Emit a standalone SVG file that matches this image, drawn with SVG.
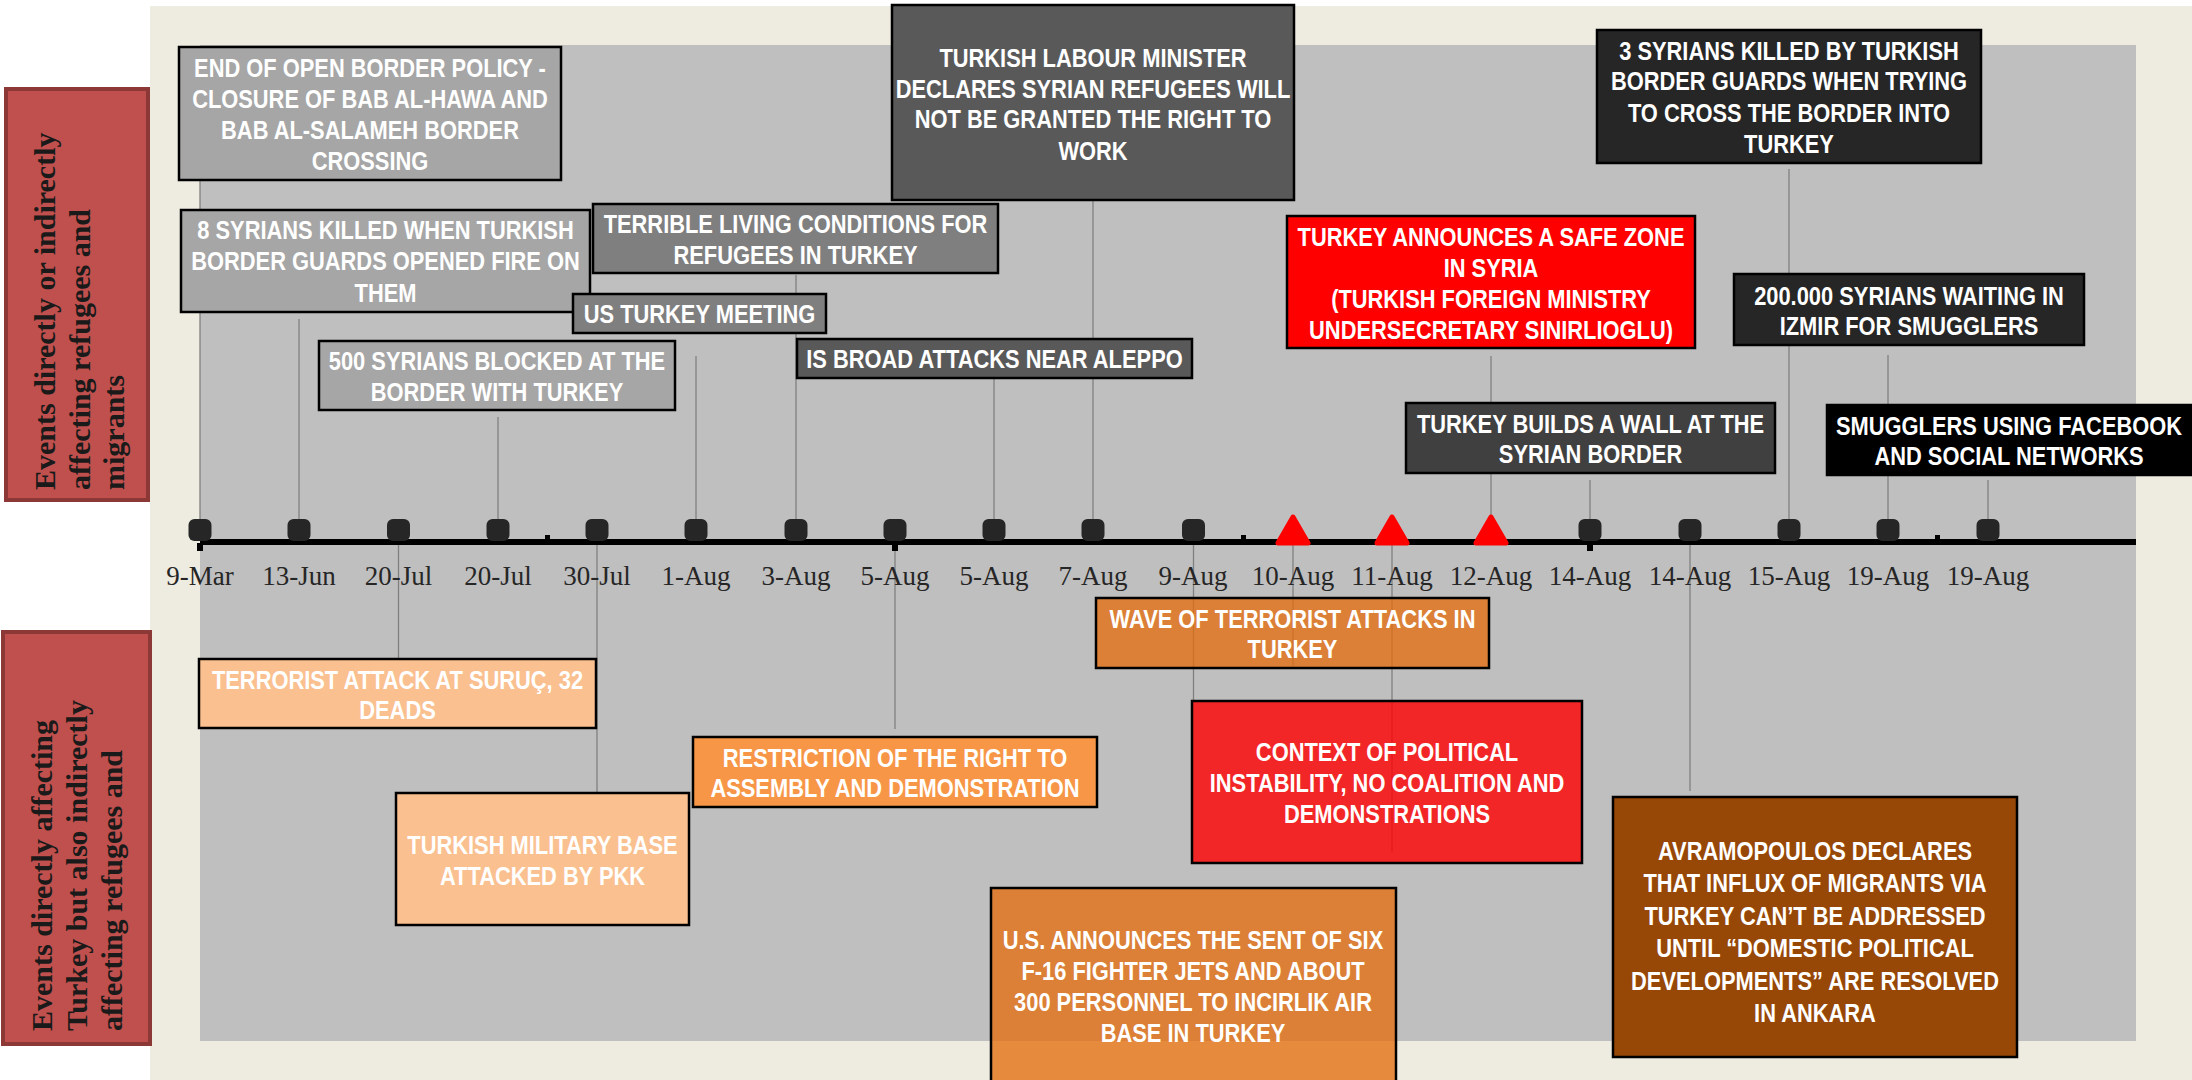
<svg xmlns="http://www.w3.org/2000/svg" width="2192" height="1080" viewBox="0 0 2192 1080">
<style>
.t{font-family:"Liberation Sans",Arial,sans-serif;font-weight:bold;font-size:25px;fill:#fff;text-anchor:middle}
.d{font-family:"Liberation Serif","Times New Roman",serif;font-size:27px;fill:#262626;text-anchor:middle}
.lab{font-family:"Liberation Serif","Times New Roman",serif;font-weight:bold;font-size:30px;fill:#1a1a1a}
.box{stroke:#000;stroke-width:2.5}
.side{fill:#C0504D;stroke:#8C3836;stroke-width:4}
.conn line{stroke:#808080;stroke-width:1.3}
.mk{fill:#262626}
.tri{fill:#FF0000;stroke:#FF0000;stroke-width:5;stroke-linejoin:round}
</style>
<rect x="0" y="0" width="2192" height="1080" fill="#ffffff"/>
<rect x="150" y="6" width="2042" height="1074" fill="#EEEBE0"/>
<rect x="200" y="45" width="1936" height="996" fill="#BFBFBF"/>

<g id="label-top">
<rect class="side" x="6" y="89" width="142" height="411"/>
<text class="lab" transform="translate(55 490) rotate(-90)" x="0" y="0">Events directly or indirectly</text>
<text class="lab" transform="translate(90 490) rotate(-90)" x="0" y="0">affecting refugees and</text>
<text class="lab" transform="translate(124 490) rotate(-90)" x="0" y="0">migrants</text>
</g>
<g id="label-bottom">
<rect class="side" x="3" y="632" width="147" height="412"/>
<text class="lab" transform="translate(52 1031) rotate(-90)" x="0" y="0">Events directly affecting</text>
<text class="lab" transform="translate(87 1031) rotate(-90)" x="0" y="0">Turkey but also indirectly</text>
<text class="lab" transform="translate(122 1031) rotate(-90)" x="0" y="0">affecting refugees and</text>
</g>

<g id="connectors" class="conn">
<line x1="200" y1="180" x2="200" y2="530"/>
<line x1="299" y1="319" x2="299" y2="530"/>
<line x1="398.5" y1="545" x2="398.5" y2="659"/>
<line x1="498" y1="417" x2="498" y2="530"/>
<line x1="597" y1="545" x2="597" y2="793"/>
<line x1="696" y1="356" x2="696" y2="530"/>
<line x1="796" y1="275" x2="796" y2="530"/>
<line x1="895" y1="545" x2="895" y2="729"/>
<line x1="994" y1="378" x2="994" y2="530"/>
<line x1="1093" y1="200" x2="1093" y2="530"/>
<line x1="1193.5" y1="545" x2="1193.5" y2="701"/>
<line x1="1293" y1="545" x2="1293" y2="666"/>
<line x1="1392" y1="545" x2="1392" y2="852"/>
<line x1="1491" y1="356" x2="1491" y2="520"/>
<line x1="1590" y1="480" x2="1590" y2="530"/>
<line x1="1690" y1="545" x2="1690" y2="791"/>
<line x1="1789" y1="169" x2="1789" y2="530"/>
<line x1="1888" y1="355" x2="1888" y2="530"/>
<line x1="1988" y1="480" x2="1988" y2="530"/>
</g>

<g id="axis">
<rect x="200" y="539" width="1936" height="6" fill="#000"/>
<rect x="197" y="543" width="6" height="8" fill="#000"/>
<rect x="892" y="543" width="6" height="8" fill="#000"/>
<rect x="1587" y="543" width="6" height="8" fill="#000"/>
<rect x="545" y="535" width="5" height="5" fill="#000"/>
<rect x="1241" y="535" width="5" height="5" fill="#000"/>
<rect x="1935" y="535" width="5" height="5" fill="#000"/>
<rect class="mk" x="188.5" y="519" width="23" height="22" rx="6"/>
<rect class="mk" x="287.5" y="519" width="23" height="22" rx="6"/>
<rect class="mk" x="387" y="519" width="23" height="22" rx="6"/>
<rect class="mk" x="486.5" y="519" width="23" height="22" rx="6"/>
<rect class="mk" x="585.5" y="519" width="23" height="22" rx="6"/>
<rect class="mk" x="684.5" y="519" width="23" height="22" rx="6"/>
<rect class="mk" x="784.5" y="519" width="23" height="22" rx="6"/>
<rect class="mk" x="883.5" y="519" width="23" height="22" rx="6"/>
<rect class="mk" x="982.5" y="519" width="23" height="22" rx="6"/>
<rect class="mk" x="1081.5" y="519" width="23" height="22" rx="6"/>
<rect class="mk" x="1182" y="519" width="23" height="22" rx="6"/>
<path class="tri" d="M1278 543 L1293 517 L1308 543 Z"/>
<path class="tri" d="M1377 543 L1392 517 L1407 543 Z"/>
<path class="tri" d="M1476 543 L1491 517 L1506 543 Z"/>
<rect class="mk" x="1578.5" y="519" width="23" height="22" rx="6"/>
<rect class="mk" x="1678.5" y="519" width="23" height="22" rx="6"/>
<rect class="mk" x="1777.5" y="519" width="23" height="22" rx="6"/>
<rect class="mk" x="1876.5" y="519" width="23" height="22" rx="6"/>
<rect class="mk" x="1976.5" y="519" width="23" height="22" rx="6"/>
</g>

<g id="dates">
<text class="d" x="200" y="585">9-Mar</text>
<text class="d" x="299" y="585">13-Jun</text>
<text class="d" x="398.5" y="585">20-Jul</text>
<text class="d" x="498" y="585">20-Jul</text>
<text class="d" x="597" y="585">30-Jul</text>
<text class="d" x="696" y="585">1-Aug</text>
<text class="d" x="796" y="585">3-Aug</text>
<text class="d" x="895" y="585">5-Aug</text>
<text class="d" x="994" y="585">5-Aug</text>
<text class="d" x="1093" y="585">7-Aug</text>
<text class="d" x="1193" y="585">9-Aug</text>
<text class="d" x="1293" y="585">10-Aug</text>
<text class="d" x="1392" y="585">11-Aug</text>
<text class="d" x="1491" y="585">12-Aug</text>
<text class="d" x="1590" y="585">14-Aug</text>
<text class="d" x="1690" y="585">14-Aug</text>
<text class="d" x="1789" y="585">15-Aug</text>
<text class="d" x="1888" y="585">19-Aug</text>
<text class="d" x="1988" y="585">19-Aug</text>
</g>

<g id="n-end">
<rect class="box" x="179" y="47" width="382" height="133" fill="#A6A6A6"/>
<g transform="translate(370 0) scale(0.875 1)">
<text class="t" x="0" y="77">END OF OPEN BORDER POLICY -</text>
<text class="t" x="0" y="108">CLOSURE OF BAB AL-HAWA AND</text>
<text class="t" x="0" y="139">BAB AL-SALAMEH BORDER</text>
<text class="t" x="0" y="170">CROSSING</text>
</g>
</g>
<g id="n-8syrians">
<rect class="box" x="181" y="210" width="409" height="102" fill="#A6A6A6"/>
<g transform="translate(385.5 0) scale(0.875 1)">
<text class="t" x="0" y="239">8 SYRIANS KILLED WHEN TURKISH</text>
<text class="t" x="0" y="270">BORDER GUARDS OPENED FIRE ON</text>
<text class="t" x="0" y="302">THEM</text>
</g>
</g>
<g id="n-terrible">
<rect class="box" x="593" y="204" width="405" height="69" fill="#7F7F7F"/>
<g transform="translate(795.5 0) scale(0.875 1)">
<text class="t" x="0" y="233">TERRIBLE LIVING CONDITIONS FOR</text>
<text class="t" x="0" y="264">REFUGEES IN TURKEY</text>
</g>
</g>
<g id="n-usturkey">
<rect class="box" x="573" y="294" width="253" height="39" fill="#7F7F7F"/>
<g transform="translate(699.5 0) scale(0.875 1)">
<text class="t" x="0" y="323">US TURKEY MEETING</text>
</g>
</g>
<g id="n-500syrians">
<rect class="box" x="319" y="341" width="356" height="69" fill="#A6A6A6"/>
<g transform="translate(497 0) scale(0.875 1)">
<text class="t" x="0" y="370">500 SYRIANS BLOCKED AT THE</text>
<text class="t" x="0" y="401">BORDER WITH TURKEY</text>
</g>
</g>
<g id="n-isbroad">
<rect class="box" x="797" y="339" width="395" height="39" fill="#595959"/>
<g transform="translate(994.5 0) scale(0.875 1)">
<text class="t" x="0" y="368">IS BROAD ATTACKS NEAR ALEPPO</text>
</g>
</g>
<g id="n-labour">
<rect class="box" x="892" y="5" width="402" height="195" fill="#595959"/>
<g transform="translate(1093 0) scale(0.875 1)">
<text class="t" x="0" y="67">TURKISH LABOUR MINISTER</text>
<text class="t" x="0" y="98">DECLARES SYRIAN REFUGEES WILL</text>
<text class="t" x="0" y="128">NOT BE GRANTED THE RIGHT TO</text>
<text class="t" x="0" y="160">WORK</text>
</g>
</g>
<g id="n-safezone">
<rect class="box" x="1287" y="216" width="408" height="132" fill="#FF0000"/>
<g transform="translate(1491 0) scale(0.875 1)">
<text class="t" x="0" y="246">TURKEY ANNOUNCES A SAFE ZONE</text>
<text class="t" x="0" y="277">IN SYRIA</text>
<text class="t" x="0" y="308">(TURKISH FOREIGN MINISTRY</text>
<text class="t" x="0" y="339">UNDERSECRETARY SINIRLIOGLU)</text>
</g>
</g>
<g id="n-wall">
<rect class="box" x="1406" y="403" width="369" height="70" fill="#404040"/>
<g transform="translate(1590.5 0) scale(0.875 1)">
<text class="t" x="0" y="433">TURKEY BUILDS A WALL AT THE</text>
<text class="t" x="0" y="463">SYRIAN BORDER</text>
</g>
</g>
<g id="n-3syrians">
<rect class="box" x="1597" y="30" width="384" height="133" fill="#262626"/>
<g transform="translate(1789 0) scale(0.875 1)">
<text class="t" x="0" y="60">3 SYRIANS KILLED BY TURKISH</text>
<text class="t" x="0" y="90">BORDER GUARDS WHEN TRYING</text>
<text class="t" x="0" y="122">TO CROSS THE BORDER INTO</text>
<text class="t" x="0" y="153">TURKEY</text>
</g>
</g>
<g id="n-200000">
<rect class="box" x="1734" y="274" width="350" height="71" fill="#262626"/>
<g transform="translate(1909 0) scale(0.875 1)">
<text class="t" x="0" y="305">200.000 SYRIANS WAITING IN</text>
<text class="t" x="0" y="335">IZMIR FOR SMUGGLERS</text>
</g>
</g>
<g id="n-smugglers">
<rect class="box" x="1827" y="405" width="370" height="70" fill="#000000"/>
<g transform="translate(2009 0) scale(0.875 1)">
<text class="t" x="0" y="435">SMUGGLERS USING FACEBOOK</text>
<text class="t" x="0" y="465">AND SOCIAL NETWORKS</text>
</g>
</g>
<g id="n-terrorist">
<rect class="box" x="199" y="659" width="397" height="69" fill="#FAC090"/>
<g transform="translate(397.5 0) scale(0.875 1)">
<text class="t" x="0" y="689">TERRORIST ATTACK AT SURUÇ, 32</text>
<text class="t" x="0" y="719">DEADS</text>
</g>
</g>
<g id="n-military">
<rect class="box" x="396" y="793" width="293" height="132" fill="#FAC090"/>
<g transform="translate(542.5 0) scale(0.875 1)">
<text class="t" x="0" y="854">TURKISH MILITARY BASE</text>
<text class="t" x="0" y="885">ATTACKED BY PKK</text>
</g>
</g>
<g id="n-restriction">
<rect class="box" x="693" y="737" width="404" height="70" fill="#F79646"/>
<g transform="translate(895 0) scale(0.875 1)">
<text class="t" x="0" y="767">RESTRICTION OF THE RIGHT TO</text>
<text class="t" x="0" y="797">ASSEMBLY AND DEMONSTRATION</text>
</g>
</g>
<g id="n-wave">
<rect class="box" x="1096" y="598" width="393" height="70" fill="#E46C0A" fill-opacity="0.76"/>
<g transform="translate(1292.5 0) scale(0.875 1)">
<text class="t" x="0" y="628">WAVE OF TERRORIST ATTACKS IN</text>
<text class="t" x="0" y="658">TURKEY</text>
</g>
</g>
<g id="n-context">
<rect class="box" x="1192" y="701" width="390" height="162" fill="#FF0000" fill-opacity="0.8"/>
<g transform="translate(1387 0) scale(0.875 1)">
<text class="t" x="0" y="761">CONTEXT OF POLITICAL</text>
<text class="t" x="0" y="792">INSTABILITY, NO COALITION AND</text>
<text class="t" x="0" y="823">DEMONSTRATIONS</text>
</g>
</g>
<g id="n-us">
<rect class="box" x="991" y="888" width="405" height="200" fill="#E46C0A" fill-opacity="0.76"/>
<g transform="translate(1193 0) scale(0.875 1)">
<text class="t" x="0" y="949">U.S. ANNOUNCES THE SENT OF SIX</text>
<text class="t" x="0" y="980">F-16 FIGHTER JETS AND ABOUT</text>
<text class="t" x="0" y="1011">300 PERSONNEL TO INCIRLIK AIR</text>
<text class="t" x="0" y="1042">BASE IN TURKEY</text>
</g>
</g>
<g id="n-avramopoulos">
<rect class="box" x="1613" y="797" width="404" height="260" fill="#974706"/>
<g transform="translate(1815 0) scale(0.875 1)">
<text class="t" x="0" y="860">AVRAMOPOULOS DECLARES</text>
<text class="t" x="0" y="892">THAT INFLUX OF MIGRANTS VIA</text>
<text class="t" x="0" y="925">TURKEY CAN’T BE ADDRESSED</text>
<text class="t" x="0" y="957">UNTIL “DOMESTIC POLITICAL</text>
<text class="t" x="0" y="990">DEVELOPMENTS” ARE RESOLVED</text>
<text class="t" x="0" y="1022">IN ANKARA</text>
</g>
</g>
</svg>
